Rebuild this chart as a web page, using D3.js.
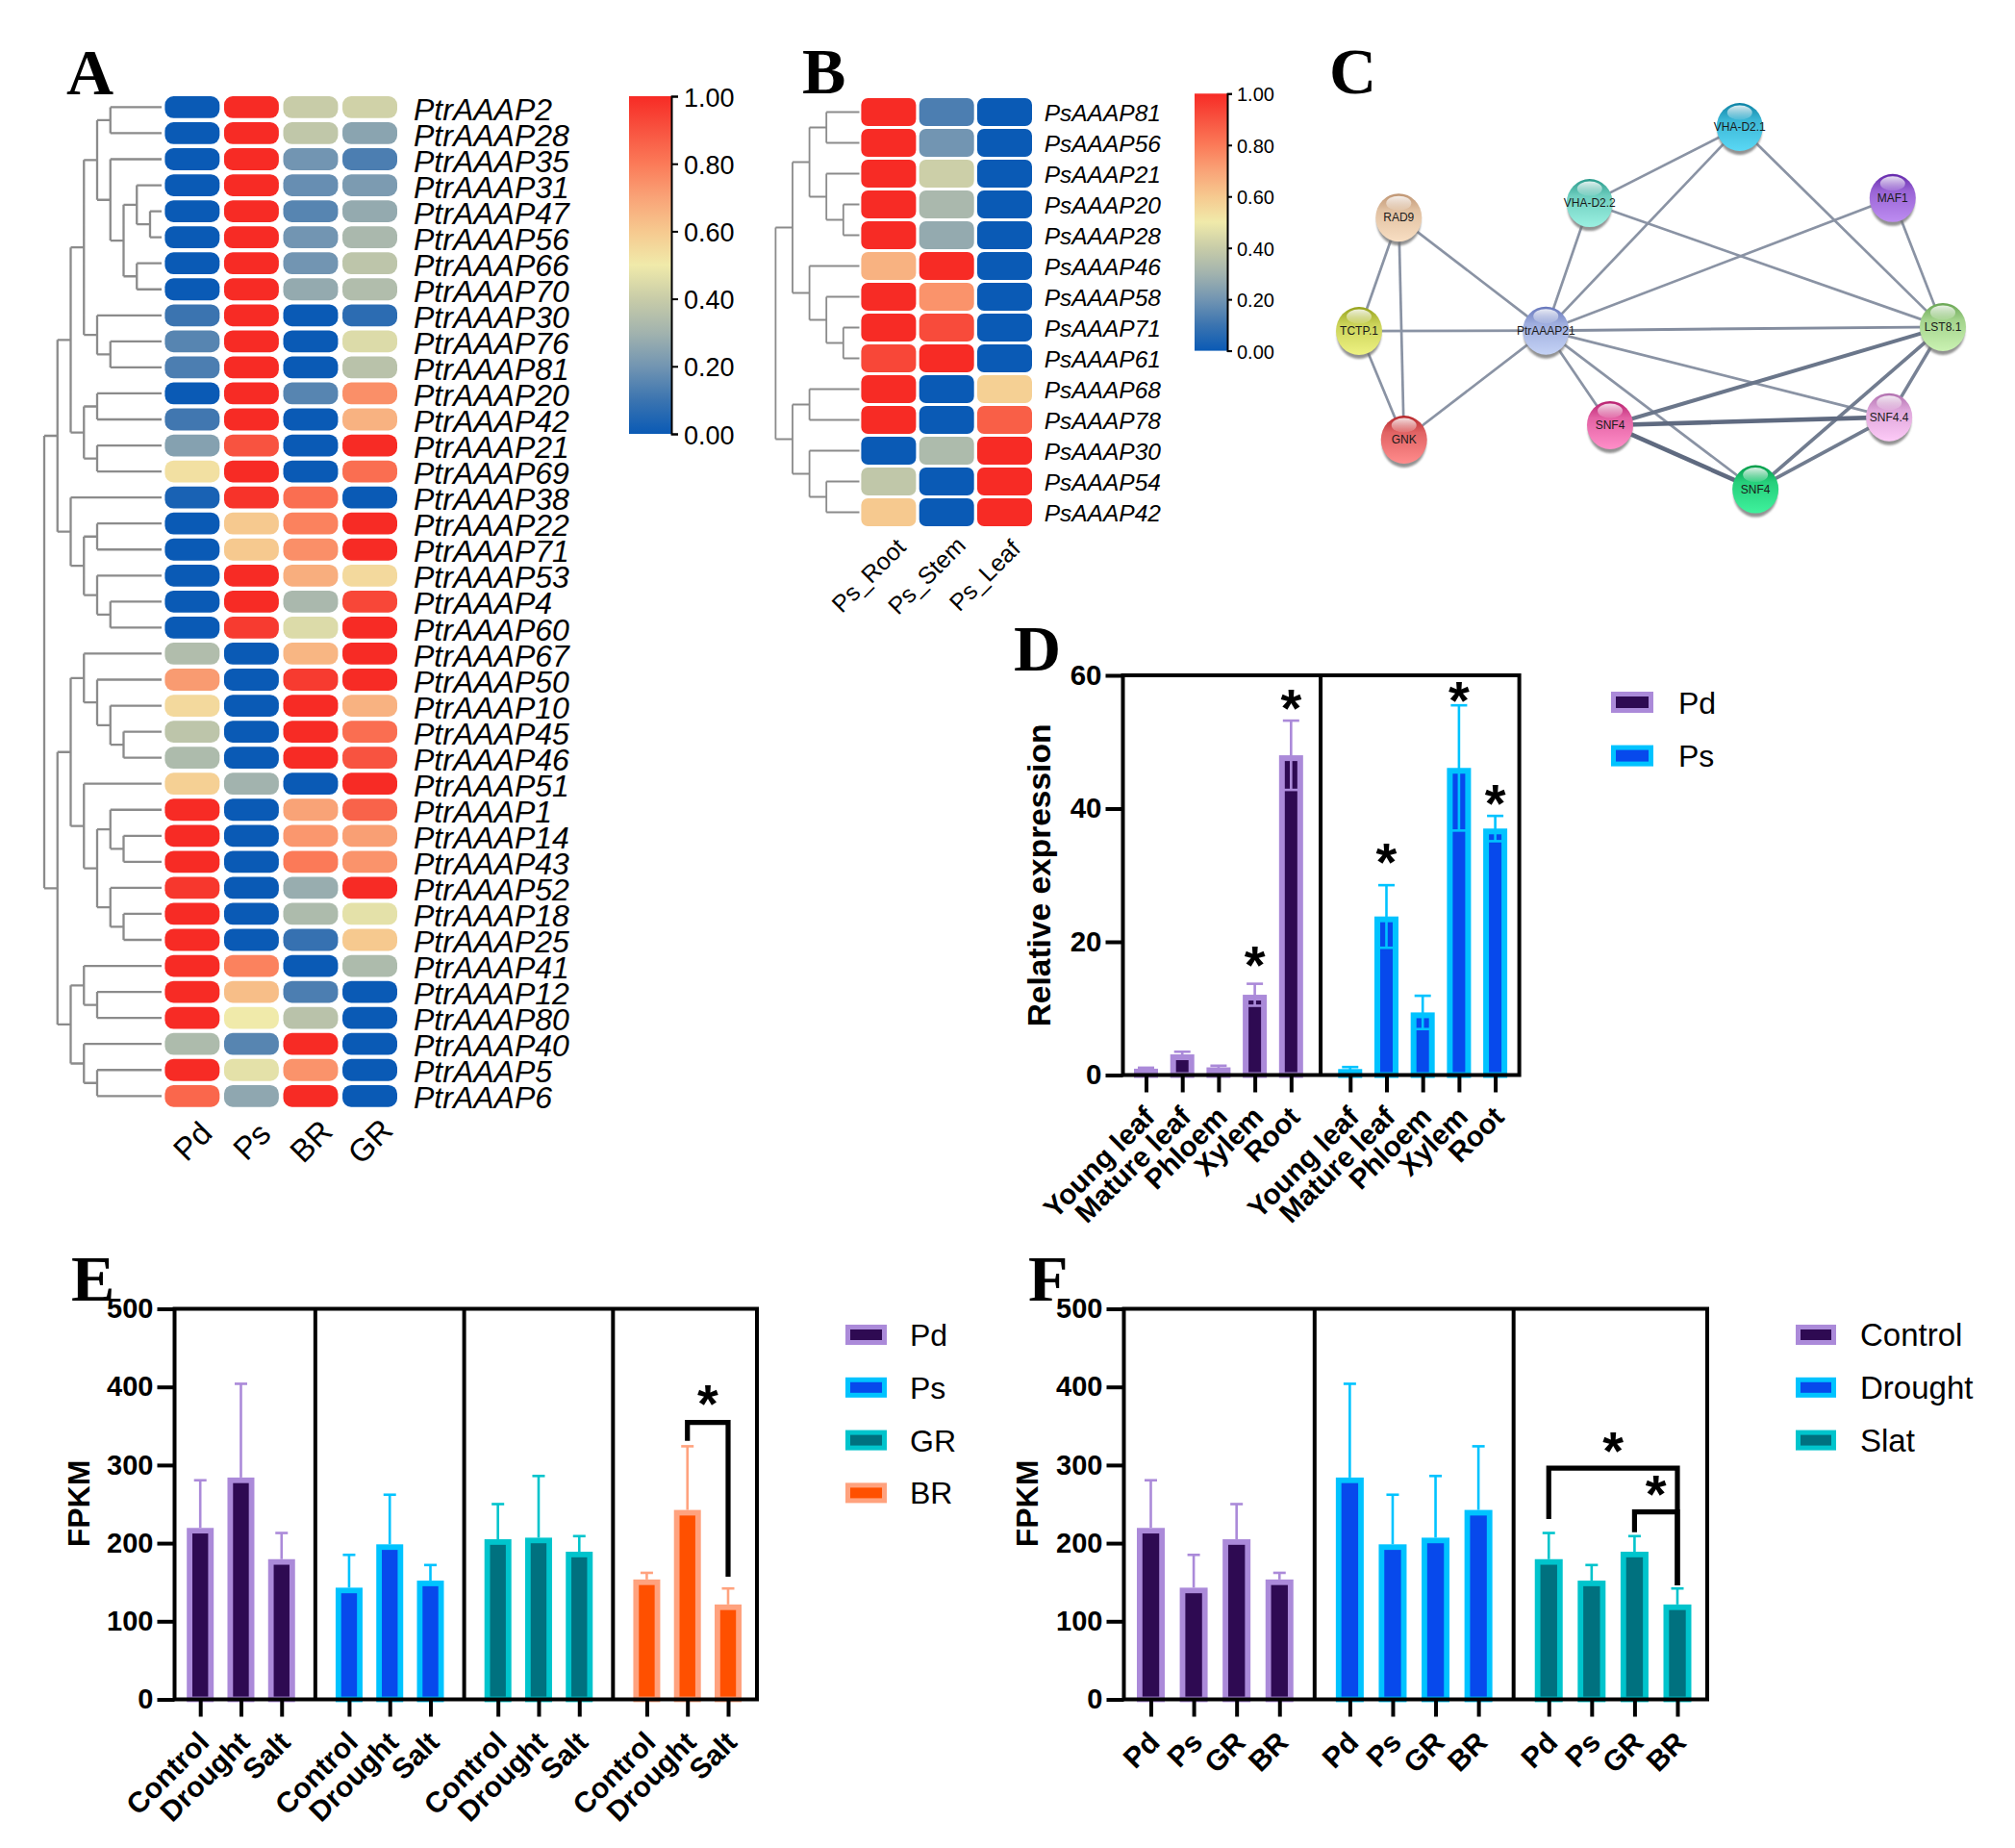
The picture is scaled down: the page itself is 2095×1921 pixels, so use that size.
<!DOCTYPE html>
<html><head><meta charset="utf-8">
<script src="https://cdn.jsdelivr.net/npm/d3@7/dist/d3.min.js"></script>
<style>
html,body{margin:0;padding:0;background:#fff}
svg{display:block}
text{font-family:"Liberation Sans",Arial,sans-serif;fill:#000}
</style></head><body>
<svg id="fig" width="2095" height="1921" xmlns="http://www.w3.org/2000/svg"></svg>
<script>
// ---------- data: panel A ----------
const aGenes=["PtrAAAP2","PtrAAAP28","PtrAAAP35","PtrAAAP31","PtrAAAP47","PtrAAAP56","PtrAAAP66","PtrAAAP70","PtrAAAP30","PtrAAAP76","PtrAAAP81","PtrAAAP20","PtrAAAP42","PtrAAAP21","PtrAAAP69","PtrAAAP38","PtrAAAP22","PtrAAAP71","PtrAAAP53","PtrAAAP4","PtrAAAP60","PtrAAAP67","PtrAAAP50","PtrAAAP10","PtrAAAP45","PtrAAAP46","PtrAAAP51","PtrAAAP1","PtrAAAP14","PtrAAAP43","PtrAAAP52","PtrAAAP18","PtrAAAP25","PtrAAAP41","PtrAAAP12","PtrAAAP80","PtrAAAP40","PtrAAAP5","PtrAAAP6"];
const aSamples=["Pd","Ps","BR","GR"];
const aPd=[0,0,0,0,0,0,0,0,.10,.15,.13,0,.11,.24,.53,.03,0,0,0,0,0,.34,.72,.55,.37,.33,.58,1,1,1,.97,1,1,1,1,1,.33,1,.85];
const aPs=[1,1,1,1,1,1,1,1,1,1,1,1,1,.9,1,.98,.6,.6,1,1,.96,0,0,0,0,0,.3,0,0,0,0,0,0,.78,.63,.5,.15,.47,.26];
const aBR=[.40,.38,.20,.18,.15,.20,.20,.27,0,0,0,.15,0,0,0,.83,.78,.75,.67,.32,.45,.65,.96,1,1,1,0,.7,.73,.8,.28,.33,.09,0,.13,.36,1,.74,1];
const aGR=[.42,.25,.13,.22,.27,.32,.37,.34,.07,.45,.36,.75,.66,1,.83,0,1,1,.55,.93,1,1,1,.66,.83,.9,1,.86,.71,.74,1,.47,.6,.33,0,0,0,0,0];
const aTree=[0,[1,[2,[3,[4,[5,"PtrAAAP2","PtrAAAP28"],[5,"PtrAAAP35",[6,[7,"PtrAAAP31",[8,"PtrAAAP47","PtrAAAP56"]],[7,"PtrAAAP66","PtrAAAP70"]]]],[4,"PtrAAAP30",[5,"PtrAAAP76","PtrAAAP81"]]],[3,[4,"PtrAAAP20","PtrAAAP42"],[4,"PtrAAAP21","PtrAAAP69"]]],[2,"PtrAAAP38",[3,[4,"PtrAAAP22","PtrAAAP71"],[4,"PtrAAAP53",[5,"PtrAAAP4","PtrAAAP60"]]]]],
 [1,[2,[3,"PtrAAAP67",[4,"PtrAAAP50",[5,"PtrAAAP10",[6,"PtrAAAP45","PtrAAAP46"]]]],[3,"PtrAAAP51",[4,[5,"PtrAAAP1",[6,"PtrAAAP14","PtrAAAP43"]],[5,"PtrAAAP52",[6,"PtrAAAP18","PtrAAAP25"]]]]],[2,[3,"PtrAAAP41",[4,"PtrAAAP12","PtrAAAP80"]],[3,"PtrAAAP40",[4,"PtrAAAP5","PtrAAAP6"]]]]];
// ---------- data: panel B ----------
const bGenes=["PsAAAP81","PsAAAP56","PsAAAP21","PsAAAP20","PsAAAP28","PsAAAP46","PsAAAP58","PsAAAP71","PsAAAP61","PsAAAP68","PsAAAP78","PsAAAP30","PsAAAP54","PsAAAP42"];
const bSamples=["Ps_Root","Ps_Stem","Ps_Leaf"];
const bRoot=[1,1,1,1,1,.66,1,1,.93,1,1,0,.38,.6];
const bStem=[.13,.2,.41,.32,.27,1,.74,.92,1,0,0,.33,0,0];
const bLeaf=[0,0,0,0,0,0,0,0,0,.58,.87,1,1,1];
const bTree=[0,[1,[2,[3,"PsAAAP81","PsAAAP56"],[3,"PsAAAP21",[4,"PsAAAP20","PsAAAP28"]]],[2,"PsAAAP46",[3,"PsAAAP58",[4,"PsAAAP71","PsAAAP61"]]]],[1,[2,"PsAAAP68","PsAAAP78"],[2,"PsAAAP30",[3,"PsAAAP54","PsAAAP42"]]]];
const scaleTicks=[0,.2,.4,.6,.8,1];
const heatStops=[0,.1,.2,.3,.4,.5,.6,.7,.8,.9,1];
const heatColors=["#0a5ab5","#3b74b0","#7295b2","#a2b3ae","#c8cca8","#f0eaaa","#f6c98f","#f9a377","#fb7a58","#f85340","#f72b25"];
// ---------- data: panel C ----------
const cIds=["d21","d22","maf","rad","tct","ptr","lst","gnk","sna","s44","snb"];
const cLabels=["VHA-D2.1","VHA-D2.2","MAF1","RAD9","TCTP.1","PtrAAAP21","LST8.1","GNK","SNF4","SNF4.4","SNF4"];
const cLayoutX=[65.2,39.5,91.4,6.8,0,32,100,7.7,43,90.8,67.9];
const cLayoutY=[0,21,19.6,25,56.3,56.2,55.2,86.3,82.3,80.1,100];
const cDark=["#0c82a4","#2a9a8b","#6428ab","#bf9573","#95a11a","#6676bb","#68a553","#b52529","#b8206f","#b06fae","#009b48"];
const cLight=["#5ad8f5","#9bf0e1","#bd8cf1","#f8dec2","#eef282","#c4d2f5","#caf2b2","#ff8c8c","#ff8ec8","#fdcaf7","#3ff29d"];
const cEdges=[["rad","tct",1],["rad","gnk",1],["rad","ptr",1],["tct","ptr",1],["tct","gnk",1],["gnk","ptr",1],["ptr","d22",1],["ptr","d21",1],["ptr","maf",1],["ptr","lst",1.1],["ptr","sna",1],["ptr","snb",1],["ptr","s44",1],["d22","d21",1],["d21","lst",1],["d22","lst",1],["maf","lst",1],["lst","sna",1.5],["lst","s44",1.3],["lst","snb",1.4],["sna","s44",1.7],["sna","snb",1.7],["s44","snb",1.4]];
// ---------- data: panel D ----------
const dTissues=["Young leaf","Mature leaf","Phloem","Xylem","Root"];
const dPd=[.95,3.1,1.15,12.05,48];
const dPdTop=[1.1,3.5,1.4,13.7,53.2];
const dPs=[.9,23.8,9.4,46.1,37];
const dPsTop=[1.2,28.5,11.9,55.5,38.9];
const dPdStars=[null,null,null,17.8,56.4];
const dPsStars=[null,33.3,null,57.6,42.1];
const dTicks=[0,20,40,60];
// ---------- data: panel E ----------
const eTreat=["Control","Drought","Salt"];
const ePd=[219.5,284,179.5], ePdTop=[280.5,404,213];
const ePs=[143,198.5,152], ePsTop=[185,262,172];
const eGR=[205,207,189], eGRTop=[250,286,209];
const eBR=[153.5,242.5,121.5], eBRTop=[162,324,142];
const fpkmTicks=[0,100,200,300,400,500];
// ---------- data: panel F ----------
const fSpecies=["Pd","Ps","GR","BR"];
const fControl=[219.5,143,205,153.5], fControlTop=[280.5,185,250,162];
const fDrought=[284,198.5,207,242.5], fDroughtTop=[404,262,286,324];
const fSlat=[179.5,152,189,121.5], fSlatTop=[213,172,209,142];
// ---------- styles ----------
const PUR={fill:"#2e0a52",line:"#ab8ad9"},BLU={fill:"#0749ec",line:"#00c3ff"},TEA={fill:"#00717f",line:"#00c4cc"},ORA={fill:"#ff5000",line:"#ffa27e"};

const svg=d3.select("#fig");
const defs=svg.append("defs");
const heat=d3.scaleLinear().domain(heatStops).range(heatColors);

function letter(t,x,y){svg.append("text").attr("x",x).attr("y",y).text(t).style("font-family",'"Liberation Serif",serif').style("font-weight","bold").style("font-size","68px");}

function heatmap(o){
  const g=svg.append("g");
  const x=d3.scaleBand().domain(o.samples).range(o.xr).paddingInner(o.px);
  const y=d3.scaleBand().domain(o.genes).range(o.yr).paddingInner(o.py);
  o.genes.forEach((gene,r)=>{o.samples.forEach((s,c)=>{
    g.append("rect").attr("x",x(s)).attr("y",y(gene)).attr("width",x.bandwidth()).attr("height",y.bandwidth())
      .attr("rx",o.rx).attr("ry",o.rx).attr("fill",heat(o.cols[c][r]));
  });
  g.append("text").attr("x",o.labelX).attr("y",y(gene)+y.bandwidth()/2+o.labelDy).attr("dy","0.36em").text(gene)
    .style("font-style","italic").style("font-size",o.labelSize+"px");
  });
  o.samples.forEach((s,i)=>{
    g.append("text").attr("text-anchor","middle").attr("transform",`translate(${x(s)+x.bandwidth()/2+o.sdx},${o.sy}) rotate(-45)`).attr("dy","0.36em").text(s).style("font-size",o.sampleSize+"px");
  });
  // dendrogram
  const lx=d3.scaleLinear().domain([0,o.tree.maxLevel]).range(o.treeX);
  const leafX=o.treeLeaf; const yc=n=>y(n)+y.bandwidth()/2; let p="";
  (function walk(n){
    if(typeof n==="string") return {y:yc(n),x:leafX};
    const kids=n.slice(1).map(walk); const nx=lx(n[0]);
    const ny=(kids[0].y+kids[kids.length-1].y)/2;
    p+=`M${nx},${kids[0].y}V${kids[kids.length-1].y}`;
    kids.forEach(k=>{p+=`M${nx},${k.y}H${k.x}`});
    return {y:ny,x:nx};
  })(o.tree.root);
  g.append("path").attr("d",p).attr("fill","none").attr("stroke","#8b8b8b").attr("stroke-width",o.treeW);
}
function colorbar(id,o){
  const grad=defs.append("linearGradient").attr("id",id).attr("x1",0).attr("x2",0).attr("y1",1).attr("y2",0);
  heatStops.forEach(t=>grad.append("stop").attr("offset",t).attr("stop-color",heat(t)));
  svg.append("rect").attr("x",o.x0).attr("y",o.y0).attr("width",o.x1-o.x0).attr("height",o.y1-o.y0).attr("fill",`url(#${id})`);
  const s=d3.scaleLinear().domain([0,1]).range([o.y1,o.y0]);
  const a=svg.append("g").attr("transform",`translate(${o.x1},0)`).call(d3.axisRight(s).tickValues(scaleTicks).tickFormat(d3.format(".2f")).tickSize(o.tick).tickPadding(o.pad));
  a.selectAll("path,line").attr("stroke","#000").attr("stroke-width",2);
  a.selectAll("text").attr("dy",`calc(0.32em + ${o.shift}px)`).attr("dy",(0.32*o.size+o.shift)+"px").style("font-size",o.size+"px").style("font-family",'"Liberation Sans"');
}
function barPanel(o){
  const g=svg.append("g");
  const slots=o.groups.flatMap(d=>d.slots);
  const labels=o.groups.flatMap(d=>d.labels);
  const x=d3.scaleLinear().domain([slots[0],slots[slots.length-1]]).range(o.xr);
  const y=d3.scaleLinear().domain([0,o.ymax]).range([o.f.b,o.f.t]);
  const sw=o.sw,w=o.w;
  o.groups.forEach(gr=>{
    gr.slots.forEach((s,i)=>{
      const cx=x(s),v=gr.values[i],t=gr.tops[i];
      const drawErr=()=>{
        const low=o.bothWays?v-(t-v):v;
        g.append("line").attr("x1",cx).attr("x2",cx).attr("y1",y(t)).attr("y2",y(low)).attr("stroke",gr.style.line).attr("stroke-width",o.errW);
        g.append("line").attr("x1",cx-o.cap/2).attr("x2",cx+o.cap/2).attr("y1",y(t)).attr("y2",y(t)).attr("stroke",gr.style.line).attr("stroke-width",o.errW);
        if(o.bothWays) g.append("line").attr("x1",cx-o.cap/2).attr("x2",cx+o.cap/2).attr("y1",y(low)).attr("y2",y(low)).attr("stroke",gr.style.line).attr("stroke-width",o.errW);
      };
      if(!o.bothWays) drawErr();
      g.append("rect").attr("x",cx-w/2+sw/2).attr("y",y(v)+sw/2).attr("width",w-sw).attr("height",Math.max(0,o.f.b-y(v)-sw/2))
        .attr("fill",gr.style.fill).attr("stroke",gr.style.line).attr("stroke-width",sw);
      if(o.bothWays) drawErr();
      if(gr.stars&&gr.stars[i]!=null) star(g,cx,y(gr.stars[i]));
    });
  });
  // frame
  const lw=4;
  g.append("rect").attr("x",o.f.l).attr("y",o.f.t).attr("width",o.f.r-o.f.l).attr("height",o.f.b-o.f.t).attr("fill","none").attr("stroke","#000").attr("stroke-width",lw);
  o.groups.slice(1).forEach((gr,i)=>{
    const prev=o.groups[i].slots; const xm=(x(prev[prev.length-1])+x(gr.slots[0]))/2;
    g.append("line").attr("x1",xm).attr("x2",xm).attr("y1",o.f.t).attr("y2",o.f.b).attr("stroke","#000").attr("stroke-width",lw);
  });
  // axes
  const ay=g.append("g").attr("transform",`translate(${o.f.l},0)`).call(d3.axisLeft(y).tickValues(o.ticks).tickFormat(d3.format("d")).tickSize(o.tickLen).tickPadding(4));
  ay.select("path").remove();
  ay.selectAll("line").attr("stroke","#000").attr("stroke-width",lw);
  ay.selectAll("text").style("font-size",o.yFont+"px").style("font-weight","bold").style("font-family",'"Liberation Sans"');
  const ax=g.append("g").attr("transform",`translate(0,${o.f.b})`).call(d3.axisBottom(x).tickValues(slots).tickFormat((d,i)=>labels[i]).tickSize(o.tickLen));
  ax.select("path").remove();
  ax.selectAll("line").attr("stroke","#000").attr("stroke-width",lw);
  ax.selectAll("text").attr("y",null).attr("x",null).attr("dy","0.35em").attr("text-anchor","end")
    .attr("transform",`translate(${o.ldx},${o.ldy}) rotate(-45)`)
    .style("font-size",o.xFont+"px").style("font-weight","bold").style("font-family",'"Liberation Sans"');
  g.append("text").attr("transform",`translate(${o.titleX},${o.titleY}) rotate(-90)`).attr("text-anchor","middle").attr("dy","0.36em").text(o.title).style("font-size",o.titleSize+"px").style("font-weight","bold");
  // brackets
  (o.brackets||[]).forEach(b=>{
    g.append("path").attr("d",`M${x(b.from)},${y(b.v1)}V${y(b.top)}H${x(b.to)}V${y(b.v2)}`).attr("fill","none").attr("stroke","#000").attr("stroke-width",5.2);
    star(g,(x(b.from)+x(b.to))/2,y(b.star));
  });
  // legend
  o.legend.items.forEach((it,i)=>{
    const ly=o.legend.y+i*o.legend.step, s=o.legend;
    g.append("rect").attr("x",s.x+2.5).attr("y",ly+2.5).attr("width",s.w-5).attr("height",s.h-5).attr("fill",it.style.fill).attr("stroke",it.style.line).attr("stroke-width",5);
    g.append("text").attr("x",s.tx).attr("y",ly+s.h/2).attr("dy","0.36em").text(it.name).style("font-size",s.size+"px");
  });
}
function star(g,x,y){g.append("text").attr("x",x).attr("y",y+28).attr("text-anchor","middle").text("*").style("font-size","56px").style("font-weight","bold");}

// ---- A
letter("A",69,98);
heatmap({genes:aGenes,samples:aSamples,cols:[aPd,aPs,aBR,aGR],xr:[171.4,413],yr:[100,1150.7],px:.075,py:.157,rx:9,labelX:430,labelDy:1.6,labelSize:32,sdx:0,sy:1186,sampleSize:33,
  tree:{root:aTree,maxLevel:8},treeX:[46,156],treeLeaf:168,treeW:2.3});
colorbar("cbA",{x0:654,x1:698,y0:100,y1:451,tick:7,pad:6,size:27,shift:1.5});
// ---- B
letter("B",834,97);
heatmap({genes:bGenes,samples:bSamples,cols:[bRoot,bStem,bLeaf],xr:[895.4,1073],yr:[102,547],px:.055,py:.094,rx:7,labelX:1085.7,labelDy:1,labelSize:24.5,sdx:-21,sy:598,sampleSize:25,
  tree:{root:bTree,maxLevel:4},treeX:[806.4,876.8],treeLeaf:893.5,treeW:1.8});
colorbar("cbB",{x0:1242,x1:1276,y0:97.3,y1:364.6,tick:5,pad:5,size:20,shift:1});
// ---- C
letter("C",1382,97);
(function(){
  const g=svg.append("g");
  const sx=d3.scaleLinear().domain([0,100]).range([1413,2020]);
  const sy=d3.scaleLinear().domain([0,100]).range([132,508.6]);
  const idx=id=>cIds.indexOf(id);
  const edgeColor=d3.scaleLinear().domain([1,1.7]).range(["#8a93a4","#5f6b80"]);
  const blurE=defs.append("filter").attr("id","soft").attr("filterUnits","userSpaceOnUse").attr("x",1380).attr("y",90).attr("width",700).attr("height",460);
  blurE.append("feGaussianBlur").attr("stdDeviation",.5);
  const eg=g.append("g").attr("filter","url(#soft)");
  cEdges.forEach(e=>{const a=idx(e[0]),b=idx(e[1]);
    eg.append("line").attr("x1",sx(cLayoutX[a])).attr("y1",sy(cLayoutY[a])).attr("x2",sx(cLayoutX[b])).attr("y2",sy(cLayoutY[b])).attr("stroke",edgeColor(e[2])).attr("stroke-width",e[2]*2.7);});
  const shadow=defs.append("filter").attr("id","blur").attr("x","-30%").attr("y","-30%").attr("width","160%").attr("height","160%");
  shadow.append("feGaussianBlur").attr("stdDeviation",1.2);
  const hl=defs.append("linearGradient").attr("id","hl").attr("x1",0).attr("x2",0).attr("y1",0).attr("y2",1);
  hl.append("stop").attr("offset",0).attr("stop-color","#fff").attr("stop-opacity",.85);
  hl.append("stop").attr("offset",1).attr("stop-color","#fff").attr("stop-opacity",.1);
  cIds.forEach((id,i)=>{
    const cx=sx(cLayoutX[i]),cy=sy(cLayoutY[i]);
    const gr=defs.append("linearGradient").attr("id","n"+id).attr("x1",0).attr("x2",0).attr("y1",0).attr("y2",1);
    gr.append("stop").attr("offset",0).attr("stop-color",cDark[i]);
    gr.append("stop").attr("offset",.35).attr("stop-color",d3.interpolateRgb(cDark[i],cLight[i])(.6));
    gr.append("stop").attr("offset",1).attr("stop-color",cLight[i]);
    g.append("ellipse").attr("cx",cx).attr("cy",cy+4).attr("rx",23).attr("ry",25).attr("fill","#6e6e6e").attr("opacity",.75).attr("filter","url(#blur)");
    g.append("ellipse").attr("cx",cx).attr("cy",cy).attr("rx",24).attr("ry",25).attr("fill",`url(#n${id})`);
    g.append("ellipse").attr("cx",cx).attr("cy",cy-15).attr("rx",13).attr("ry",7.5).attr("fill","url(#hl)");
    g.append("text").attr("x",cx).attr("y",cy).attr("dy","0.36em").attr("text-anchor","middle").text(cLabels[i]).style("font-size","12px").style("fill","#1a1a1a");
  });
})();
// ---- D
letter("D",1054,697);
barPanel({f:{l:1167.5,r:1579.6,t:702,b:1117.5},xr:[1191.5,1554.6],ymax:60,ticks:dTicks,w:25,sw:6,errW:2.6,cap:17,bothWays:true,tickLen:18,
  yFont:29.5,xFont:29.5,ldx:3,ldy:38,title:"Relative expression",titleX:1080,titleY:910,titleSize:33.5,
  groups:[{slots:[0,1,2,3,4],labels:dTissues,values:dPd,tops:dPdTop,stars:dPdStars,style:PUR},
          {slots:[5.63,6.63,7.63,8.63,9.63],labels:dTissues,values:dPs,tops:dPsTop,stars:dPsStars,style:BLU}],
  legend:{x:1675,y:719,w:44,h:22,step:55.6,tx:1745,size:32,items:[{name:"Pd",style:PUR},{name:"Ps",style:BLU}]}});
// ---- E
letter("E",74,1352);
barPanel({f:{l:181.5,r:787,t:1360.5,b:1766.5},xr:[208.2,757],ymax:500,ticks:fpkmTicks,w:28,sw:5.8,errW:2.6,cap:13,bothWays:false,tickLen:18,
  yFont:29,xFont:30,ldx:3,ldy:39,title:"FPKM",titleX:81,titleY:1563,titleSize:32,
  groups:[{slots:[0,1,2],labels:eTreat,values:ePd,tops:ePdTop,style:PUR},
          {slots:[3.66,4.66,5.66],labels:eTreat,values:ePs,tops:ePsTop,style:BLU},
          {slots:[7.32,8.32,9.32],labels:eTreat,values:eGR,tops:eGRTop,style:TEA},
          {slots:[10.98,11.98,12.98],labels:eTreat,values:eBR,tops:eBRTop,style:ORA}],
  brackets:[{from:11.98,to:12.98,v1:331,top:354.6,v2:157,star:390}],
  legend:{x:879,y:1377,w:43,h:21,step:54.8,tx:946,size:32,items:[{name:"Pd",style:PUR},{name:"Ps",style:BLU},{name:"GR",style:TEA},{name:"BR",style:ORA}]}});
// ---- F
letter("F",1069,1352);
barPanel({f:{l:1168.5,r:1775,t:1360.5,b:1766.5},xr:[1196.5,1744],ymax:500,ticks:fpkmTicks,w:29,sw:5.8,errW:2.6,cap:13,bothWays:false,tickLen:18,
  yFont:29,xFont:30,ldx:3,ldy:39,title:"FPKM",titleX:1067,titleY:1563,titleSize:32,
  groups:[{slots:[0,1,2,3],labels:fSpecies,values:fControl,tops:fControlTop,style:PUR},
          {slots:[4.64,5.64,6.64,7.64],labels:fSpecies,values:fDrought,tops:fDroughtTop,style:BLU},
          {slots:[9.28,10.28,11.28,12.28],labels:fSpecies,values:fSlat,tops:fSlatTop,style:TEA}],
  brackets:[{from:9.28,to:12.28,v1:231,top:296,v2:146,star:330},{from:11.28,to:12.28,v1:214,top:240,v2:146,star:274}],
  legend:{x:1867,y:1377,w:42,h:21,step:54.8,tx:1934,size:33,items:[{name:"Control",style:PUR},{name:"Drought",style:BLU},{name:"Slat",style:TEA}]}});
</script>
</body></html>
